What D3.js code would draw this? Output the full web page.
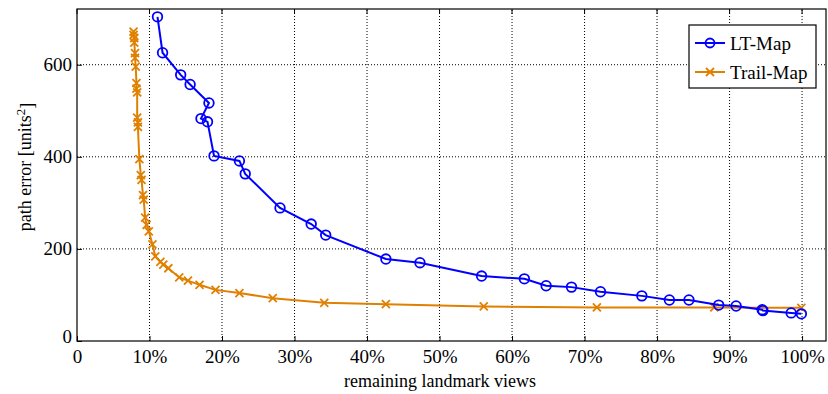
<!DOCTYPE html>
<html>
<head>
<meta charset="utf-8">
<script src="https://cdn.jsdelivr.net/npm/d3@7"></script>
<style>
  body { margin: 0; background: #fff; }
</style>
</head>
<body>
<div id="chart"></div>
<script>
// LT-Map: remaining landmark views (%) and path error
const ltX = [11.1, 11.8, 14.3, 15.6, 18.2, 17.1, 18.0, 18.9, 22.4, 23.2, 28.0, 32.3, 34.3, 42.6, 47.3,
  55.8, 61.7, 64.7, 68.2, 72.2, 77.9, 81.7, 84.4, 88.5, 90.9, 94.5, 94.6, 98.5, 99.9];
const ltY = [704, 626, 578, 557, 517, 483, 476, 402, 391, 363, 289, 254, 230, 178, 170,
  141, 135, 120, 117, 107, 98, 89, 89, 78, 76, 68, 66, 61, 59];

// Trail-Map
const trailX = [7.8, 7.8, 7.9, 7.9, 8.0, 8.0, 8.1, 8.2, 8.2, 8.3, 8.3, 8.4, 8.4, 8.6, 8.8, 8.9, 9.1, 9.2,
  9.4, 9.6, 9.9, 10.4, 10.8, 11.5, 11.9, 12.6, 14.1, 15.3, 16.9, 19.1, 22.4, 27.0, 34.1, 42.6,
  56.1, 71.7, 87.9, 99.9];
const trailY = [672, 665, 658, 648, 625, 615, 596, 560, 548, 540, 485, 475, 465, 395, 360, 350, 317, 307,
  268, 252, 238, 210, 184, 172, 166, 158, 138, 131, 122, 111, 104, 93, 83, 80,
  75, 73, 73, 72];

const xTicks = [0, 10, 20, 30, 40, 50, 60, 70, 80, 90, 100];
const yTicks = [0, 200, 400, 600];

const width = 828, height = 394;
const margin = { top: 9, right: 2, bottom: 53, left: 77 };
const serif = "'Liberation Serif', 'Times New Roman', Tinos, 'DejaVu Serif', serif";

const svg = d3.select("#chart").append("svg")
  .attr("width", width)
  .attr("height", height);

const x = d3.scaleLinear().domain([0, 103.3]).range([margin.left, width - margin.right]);
const y = d3.scaleLinear().domain([0, 721]).range([height - margin.bottom, margin.top]);

// grid
svg.append("g")
  .selectAll("line")
  .data(xTicks.filter(d => d > 0))
  .join("line")
    .attr("x1", d => x(d)).attr("x2", d => x(d))
    .attr("y1", y(0)).attr("y2", margin.top)
    .attr("stroke", "#000")
    .attr("stroke-width", 1)
    .attr("stroke-dasharray", "1,2");

svg.append("g")
  .selectAll("line")
  .data(yTicks.filter(d => d > 0))
  .join("line")
    .attr("x1", margin.left).attr("x2", width - margin.right)
    .attr("y1", d => y(d)).attr("y2", d => y(d))
    .attr("stroke", "#000")
    .attr("stroke-width", 1)
    .attr("stroke-dasharray", "1,2");

// axes, ticks inward
const xAxis = svg.append("g")
  .attr("transform", `translate(0,${y(0)})`)
  .call(d3.axisBottom(x).tickValues(xTicks).tickSize(-5).tickPadding(9)
    .tickFormat(d => d === 0 ? "0" : d + "%"));
xAxis.select(".domain").remove();
xAxis.attr("font-family", null);
xAxis.selectAll("text").style("font-family", serif).style("font-size", "19px").attr("dy", "0.71em");

const yAxis = svg.append("g")
  .attr("transform", `translate(${margin.left},0)`)
  .call(d3.axisLeft(y).tickValues(yTicks).tickSize(-5).tickPadding(5));
yAxis.select(".domain").remove();
yAxis.attr("font-family", null);
yAxis.selectAll("text").style("font-family", serif).style("font-size", "19px");
yAxis.selectAll(".tick").filter(d => d === 0).select("text").attr("dy", "0.1em");

// top ticks
svg.append("g")
  .selectAll("line")
  .data(xTicks)
  .join("line")
    .attr("x1", d => x(d)).attr("x2", d => x(d))
    .attr("y1", margin.top).attr("y2", margin.top + 5)
    .attr("stroke", "#000");

// frame
svg.append("rect")
  .attr("x", margin.left).attr("y", margin.top)
  .attr("width", width - margin.right - margin.left)
  .attr("height", y(0) - margin.top)
  .attr("fill", "none")
  .attr("stroke", "#000")
  .attr("stroke-width", 1.2);

const blue = "#0000ff", orange = "#e08000";

const ltData = ltX.map((d, i) => [d, ltY[i]]);
const trailData = trailX.map((d, i) => [d, trailY[i]]);

const line = d3.line().x(d => x(d[0])).y(d => y(d[1]));

svg.append("path")
  .datum(trailData)
  .attr("d", line)
  .attr("fill", "none")
  .attr("stroke", orange)
  .attr("stroke-width", 2);

svg.append("g")
  .selectAll("path")
  .data(trailData)
  .join("path")
    .attr("transform", d => `translate(${x(d[0])},${y(d[1])})`)
    .attr("d", "M-4,-4L4,4M-4,4L4,-4")
    .attr("stroke", orange)
    .attr("stroke-width", 1.8);

svg.append("path")
  .datum(ltData)
  .attr("d", line)
  .attr("fill", "none")
  .attr("stroke", blue)
  .attr("stroke-width", 2);

svg.append("g")
  .selectAll("circle")
  .data(ltData)
  .join("circle")
    .attr("cx", d => x(d[0]))
    .attr("cy", d => y(d[1]))
    .attr("r", 4.8)
    .attr("fill", "none")
    .attr("stroke", blue)
    .attr("stroke-width", 1.8);

// legend
const lg = svg.append("g").attr("transform", "translate(689,25)");
lg.append("rect")
  .attr("width", 127).attr("height", 63)
  .attr("fill", "#fff").attr("stroke", "#000").attr("stroke-width", 1.2);
const entries = [
  { name: "LT-Map", color: blue, marker: "o" },
  { name: "Trail-Map", color: orange, marker: "x" }
];
entries.forEach((e, i) => {
  const cy = 18 + i * 29;
  lg.append("line")
    .attr("x1", 6).attr("x2", 36).attr("y1", cy).attr("y2", cy)
    .attr("stroke", e.color).attr("stroke-width", 2);
  if (e.marker === "o") {
    lg.append("circle").attr("cx", 21).attr("cy", cy).attr("r", 4.5)
      .attr("fill", "none").attr("stroke", e.color).attr("stroke-width", 1.8);
  } else {
    lg.append("path").attr("transform", `translate(21,${cy})`)
      .attr("d", "M-4,-4L4,4M-4,4L4,-4")
      .attr("stroke", e.color).attr("stroke-width", 1.8);
  }
  lg.append("text")
    .attr("x", 41).attr("y", cy)
    .attr("dy", "0.35em")
    .style("font-family", serif)
    .style("font-size", "19px")
    .text(e.name);
});

// axis titles
svg.append("text")
  .attr("x", 440).attr("y", 387)
  .attr("text-anchor", "middle")
  .style("font-family", serif)
  .style("font-size", "18px")
  .text("remaining landmark views");

const yl = svg.append("text")
  .attr("transform", "translate(31,167) rotate(-90)")
  .attr("text-anchor", "middle")
  .style("font-family", serif)
  .style("font-size", "18px");
yl.append("tspan").text("path error [units");
yl.append("tspan").attr("dy", "-0.45em").style("font-size", "13px").text("2");
yl.append("tspan").attr("dy", "0.45em").text("]");
</script>
</body>
</html>
